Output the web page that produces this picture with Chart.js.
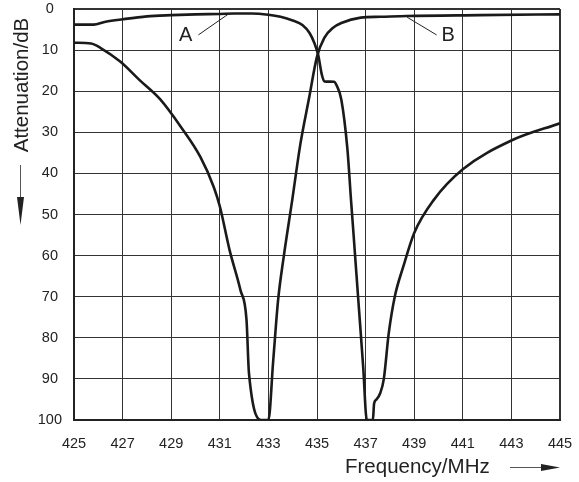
<!DOCTYPE html>
<html>
<head>
<meta charset="utf-8">
<style>
  html, body { margin: 0; padding: 0; background: #fff; }
  #wrap { width: 579px; height: 482px; }
</style>
<script src="https://cdn.jsdelivr.net/npm/chart.js@4/dist/chart.umd.min.js"></script>
</head>
<body>
<div id="wrap"><canvas id="filterChart" width="579" height="482"></canvas></div>
<script>
// tick values
const freqTicks = [425, 427, 429, 431, 433, 435, 437, 439, 441, 443, 445];
const attenTicks = [0, 10, 20, 30, 40, 50, 60, 70, 80, 90, 100];

// curve A
const freqA = [425, 425.8, 426.3, 427, 428, 429, 430, 431, 431.6, 432.3, 433, 433.5, 434, 434.4, 434.7, 434.9,
  435.05, 435.2, 435.3, 435.7, 435.8, 436.0, 436.25, 436.4, 436.5, 436.7, 436.9, 437.05, 437.3,
  437.35, 437.45, 437.6, 437.75, 437.95, 438.2, 438.55, 439, 439.8, 441, 443, 445];
const attenA = [3.8, 3.8, 3.1, 2.5, 1.8, 1.5, 1.3, 1.2, 1.1, 1.1, 1.4, 1.9, 2.8, 3.9, 5.9, 8.4,
  11.2, 16, 17.6, 17.7, 18.5, 22, 34, 46.5, 54.5, 70.8, 87, 100, 100,
  96, 95, 93.5, 90, 79, 70, 62.7, 54.5, 46.5, 39, 32, 27.8];

// curve B
const freqB = [425, 425.7, 426.1, 426.9, 427.7, 428.55, 429.4, 430.2, 430.75, 431, 431.4, 431.85, 432.1,
  432.2, 432.75, 433.0, 433.2, 433.4, 433.63, 433.98, 434.32, 434.66, 435, 435.3, 435.65, 436.0,
  436.8, 437.6, 438.7, 441.7, 445];
const attenB = [8.2, 8.4, 9.5, 12.8, 17.3, 22, 28.7, 36, 43.3, 48, 58.6, 68.4, 75.7,
  88.6, 100, 100, 85.4, 70.8, 60.3, 46.5, 32.7, 22.1, 11.6, 7.0, 4.6, 3.4,
  2.1, 1.9, 1.7, 1.5, 1.3];

// curve labels: text, label point, leader start, point on curve
const curveLabels = [
  { text: 'A', at: [429.6, 6.5], from: [430.12, 6.3], to: [431.36, 1.2] },
  { text: 'B', at: [440.4, 6.5], from: [439.92, 6.3], to: [438.71, 2.0] }
];

const font = '"Liberation Sans", Arial, Helvetica, sans-serif';
const ink = '#222';

function toPoints(xs, ys) {
  return xs.map(function(x, i) { return { x: x, y: ys[i] }; });
}

// no extra room for tick labels, the layout padding decides the plot box
function noPad(scale) {
  scale.paddingTop = 0;
  scale.paddingBottom = 0;
  scale.paddingLeft = 0;
  scale.paddingRight = 0;
}

// draws labels, leaders and the axis titles with arrows
const extras = {
  id: 'extras',
  afterDraw(chart) {
    const c = chart.ctx;
    const xs = chart.scales.x;
    const ys = chart.scales.y;
    c.save();
    c.fillStyle = ink;
    c.strokeStyle = ink;

    // A / B labels
    c.font = '20px ' + font;
    c.textAlign = 'center';
    c.textBaseline = 'middle';
    curveLabels.forEach(function(l) {
      c.fillText(l.text, xs.getPixelForValue(l.at[0]), ys.getPixelForValue(l.at[1]));
      c.lineWidth = 1;
      c.beginPath();
      c.moveTo(xs.getPixelForValue(l.from[0]), ys.getPixelForValue(l.from[1]));
      c.lineTo(xs.getPixelForValue(l.to[0]), ys.getPixelForValue(l.to[1]));
      c.stroke();
    });

    // x title + arrow
    c.font = '20.5px ' + font;
    c.textAlign = 'left';
    c.fillText('Frequency/MHz', 345, 467);
    c.strokeStyle = '#555';
    c.lineWidth = 1;
    c.beginPath();
    c.moveTo(510, 467.5);
    c.lineTo(545, 467.5);
    c.stroke();
    c.beginPath();
    c.moveTo(541, 464);
    c.lineTo(560, 467.5);
    c.lineTo(541, 471);
    c.closePath();
    c.fill();

    // y title + arrow
    c.save();
    c.translate(22, 85);
    c.rotate(-Math.PI / 2);
    c.textAlign = 'center';
    c.fillText('Attenuation/dB', 0, 0);
    c.restore();
    c.beginPath();
    c.moveTo(20.5, 165);
    c.lineTo(20.5, 200);
    c.stroke();
    c.beginPath();
    c.moveTo(17, 197);
    c.lineTo(20.5, 225);
    c.lineTo(24, 197);
    c.closePath();
    c.fill();

    c.restore();
  }
};

var ctx = document.getElementById('filterChart').getContext('2d');
var chart = new Chart(ctx, {
  type: 'line',
  data: {
    datasets: [{
      label: 'A',
      data: toPoints(freqA, attenA),
      borderColor: '#1a1a1a',
      borderWidth: 2.6,
      pointRadius: 0,
      cubicInterpolationMode: 'monotone'
    }, {
      label: 'B',
      data: toPoints(freqB, attenB),
      borderColor: '#1a1a1a',
      borderWidth: 2.6,
      pointRadius: 0,
      cubicInterpolationMode: 'monotone'
    }]
  },
  options: {
    responsive: false,
    animation: false,
    layout: { padding: { top: 9, right: 19, bottom: 0, left: 0 } },
    plugins: {
      legend: { display: false },
      tooltip: { enabled: false }
    },
    scales: {
      x: {
        type: 'linear',
        min: 425,
        max: 445,
        afterBuildTicks: function(scale) {
          scale.ticks = freqTicks.map(function(v) { return { value: v }; });
        },
        afterFit: function(scale) { scale.height = 62; noPad(scale); },
        ticks: {
          color: ink,
          font: { family: font, size: 14.5 },
          padding: 15,
          maxRotation: 0,
          autoSkip: false
        },
        grid: {
          color: '#333',
          lineWidth: function(c) { return c.tick && c.tick.value === 445 ? 2 : 1; },
          drawTicks: false
        },
        border: { display: true, color: '#222', width: 2 }
      },
      y: {
        type: 'linear',
        min: 0,
        max: 100,
        reverse: true,
        afterBuildTicks: function(scale) {
          scale.ticks = attenTicks.map(function(v) { return { value: v }; });
        },
        afterFit: function(scale) { scale.width = 74; noPad(scale); },
        ticks: {
          color: ink,
          font: { family: font, size: 14.5 },
          padding: 12,
          crossAlign: 'center',
          autoSkip: false
        },
        grid: {
          color: '#333',
          lineWidth: function(c) { return c.tick && c.tick.value === 0 ? 2 : 1; },
          drawTicks: false
        },
        border: { display: true, color: '#222', width: 2 }
      }
    }
  },
  plugins: [extras]
});
</script>
</body>
</html>
